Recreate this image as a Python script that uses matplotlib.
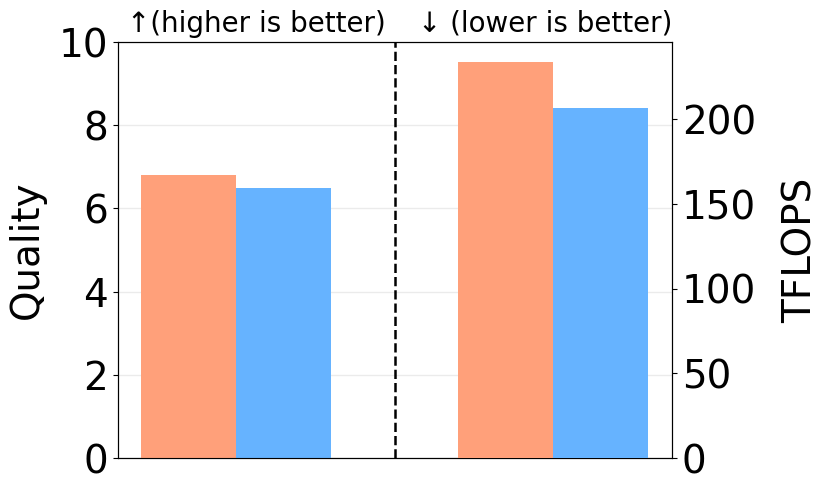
import numpy as np
import matplotlib
matplotlib.use("Agg")
import matplotlib.pyplot as plt

# values
methods = ["A", "B"]
quality = [6.8, 6.5]
tflops = [234, 207]
colors = ["#FFA07A", "#66B3FF"]
width = 0.3

fig = plt.figure(figsize=(8.31, 4.92), dpi=100)
ax = fig.add_axes([0.142, 0.0691, 0.6667, 0.8455])
ax2 = ax.twinx()

offsets = [-width / 2, width / 2]
for i in range(len(methods)):
    ax.bar(0 + offsets[i], quality[i], width, color=colors[i], zorder=3)
    ax2.bar(1 + offsets[i], tflops[i], width, color=colors[i], zorder=3)

ax.set_ylim(0, 10)
ax.set_xlim(-0.372, 1.375)
ax.set_xticks([])
ax.yaxis.grid(True, color="#ebebeb", linewidth=1, zorder=0)
ax.set_axisbelow(True)
ax.axvline(0.5, color="black", linestyle="--", linewidth=1.8)

ax.set_ylabel("Quality", fontsize=28, labelpad=9)
ax2.set_ylabel("TFLOPS", fontsize=28, labelpad=18)
ax.tick_params(axis="y", labelsize=28)
ax2.tick_params(axis="y", labelsize=28)

ax.text(0.25, 1.01, "↑(higher is better)", transform=ax.transAxes,
        ha="center", va="bottom", fontsize=20)
ax.text(1.0, 1.01, "↓ (lower is better)", transform=ax.transAxes,
        ha="right", va="bottom", fontsize=20)

fig.savefig("out.png", dpi=100)
